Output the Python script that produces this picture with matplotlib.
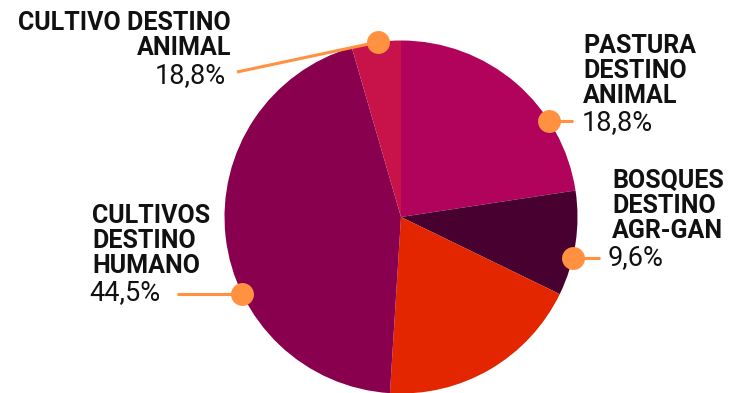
import numpy as np
import matplotlib.pyplot as plt

# share of each land use, clockwise from 12 o'clock
slices = ["pastura", "bosques", "cultivo_animal_red", "cultivos_humano", "cultivo_animal"]
values = [22.6, 9.6, 18.8, 44.5, 4.5]
colors = ["#b1035c", "#470030", "#e32600", "#89004e", "#c7134a"]

# labelled slices: title lines, value text, angle of the marker on the rim
titles = [["CULTIVO DESTINO", "ANIMAL"],
          ["PASTURA", "DESTINO", "ANIMAL"],
          ["BOSQUES", "DESTINO", "AGR-GAN"],
          ["CULTIVOS", "DESTINO", "HUMANO"]]
pct = ["18,8%", "18,8%", "9,6%", "44,5%"]
dot_ang = [97.5, 33.0, -13.3, 205.7]

W, H = 742, 393
fig = plt.figure(figsize=(W / 100, H / 100), dpi=100)
ax = fig.add_axes([0, 0, 1, 1])

cx, cy, R = 401, H - 217, 176.5
ax.pie(values, colors=colors, startangle=90, counterclock=False,
       center=(cx, cy), radius=R, frame=True,
       wedgeprops=dict(linewidth=0))
ax.set_xlim(0, W)
ax.set_ylim(0, H)
ax.set_aspect("equal")
ax.axis("off")

orange = "#ff9140"
bold = dict(family=["Roboto", "DejaVu Sans"], weight="bold",
            fontsize=18, color="#111111")
light = dict(family=["Roboto", "DejaVu Sans"], weight="normal",
             fontsize=19.5, color="#111111")

# (text x, first baseline, align, pct x, pct baseline, line start x, line start y)
layout = [
    (231, 30, "right", 226, 83, 237, 72),
    (583, 53, "left", 582, 130, 573, None),
    (612, 188, "left", 608, 265, 600, None),
    (92, 223, "left", 89, 300, 177, None),
]

for lines, p, a, (tx, by, ha, px, py, lx, ly) in zip(titles, pct, dot_ang, layout):
    dx = cx + R * np.cos(np.radians(a))
    dy = cy + R * np.sin(np.radians(a))
    y0 = dy if ly is None else H - ly
    ax.plot([lx, dx], [y0, dy], color=orange, lw=2.2,
            solid_capstyle="butt", zorder=3)
    ax.plot(dx, dy, "o", ms=16.5, color=orange, mec="none", zorder=4)
    for i, line in enumerate(lines):
        ax.text(tx, H - (by + 25 * i), line, ha=ha, va="baseline", **bold)
    ax.text(px, H - py, p, ha=ha, va="baseline", **light)

fig.savefig("out.png", dpi=100)
